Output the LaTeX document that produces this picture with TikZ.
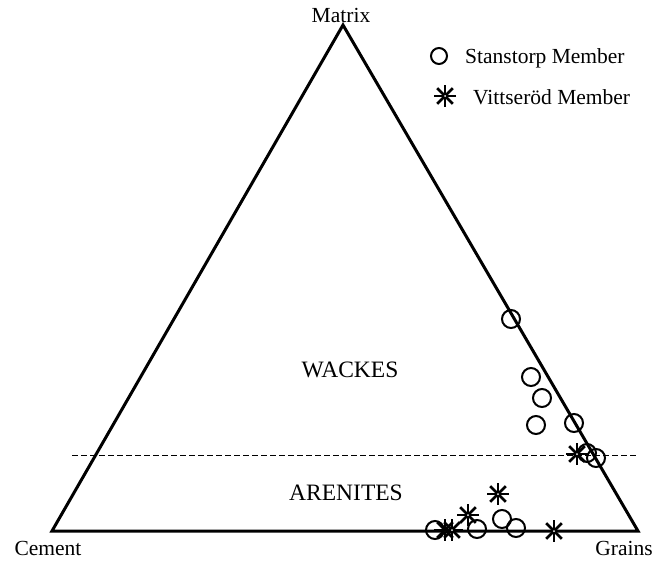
\documentclass[tikz,border=0pt]{standalone}
\usepackage{fontspec}
\setmainfont{Liberation Serif}
\tikzset{
  lbl/.style={font=\fontsize{21.5}{24}\selectfont, inner sep=0pt},
  biglbl/.style={font=\fontsize{23.5}{26}\selectfont, inner sep=0pt},
  stanst/.style={circle, draw, line width=2pt, minimum size=18pt, inner sep=0pt},
  vitt/.style={circle, minimum size=25pt, inner sep=0pt,
    path picture={
      \foreach \a in {0,45,90,135}{
        \draw[line width=2.8pt] (path picture bounding box.center) ++(\a:11pt) -- ++(\a+180:22pt);}
      \fill[white] (path picture bounding box.center) circle (1pt);}},
  edge/.style={line width=3pt, line join=miter},
  divider/.style={line width=0.9pt, dash pattern=on 6pt off 3pt}
}
\begin{document}
\begin{tikzpicture}[x=1pt,y=-1pt]
\useasboundingbox (0,0) rectangle (667,560);
% triangle
\coordinate (L) at (52,531);
\coordinate (R) at (638,531);
\coordinate (T) at (343,25);
\draw[edge] (L) -- (R) -- (T) -- cycle;
% divider
\coordinate (dl) at (72,455);
\coordinate (dr) at (637,455);
\draw[divider] (dl) -- (dr);
% vertex labels
\node[lbl, anchor=base] (matrix) at (341,22) {Matrix};
\node[lbl, anchor=base] (cement) at (48,555) {Cement};
\node[lbl, anchor=base] (grains) at (624,555) {Grains};
% field labels
\node[biglbl, anchor=base] (wackes) at (350,377) {WACKES};
\node[biglbl, anchor=base] (arenites) at (346,500) {ARENITES};
% Stanstorp points
\node[stanst] (s1) at (511,319) {};
\node[stanst] (s2) at (531,377) {};
\node[stanst] (s3) at (542,398) {};
\node[stanst] (s4) at (536,425) {};
\node[stanst] (s5) at (574,423) {};
\node[stanst] (s6) at (587,453) {};
\node[stanst] (s7) at (596,458) {};
\node[stanst] (s8) at (435,530) {};
\node[stanst] (s9) at (477,529) {};
\node[stanst] (s10) at (502,519) {};
\node[stanst] (s11) at (516,528) {};
% Vittserod points
\node[vitt] (v1) at (577,454) {};
\node[vitt] (v2) at (445,530) {};
\node[vitt] (v3) at (452,530) {};
\node[vitt] (v4) at (468,515) {};
\node[vitt] (v5) at (498,494) {};
\node[vitt] (v6) at (554,531) {};
% legend
\node[stanst, minimum size=16pt] (legc) at (439,56) {};
\node[lbl, anchor=base west] (legct) at (465,63) {Stanstorp Member};
\node[vitt] (legs) at (445,96) {};
\node[lbl, anchor=base west] (legst) at (473,104) {Vittseröd Member};
\end{tikzpicture}
\end{document}
